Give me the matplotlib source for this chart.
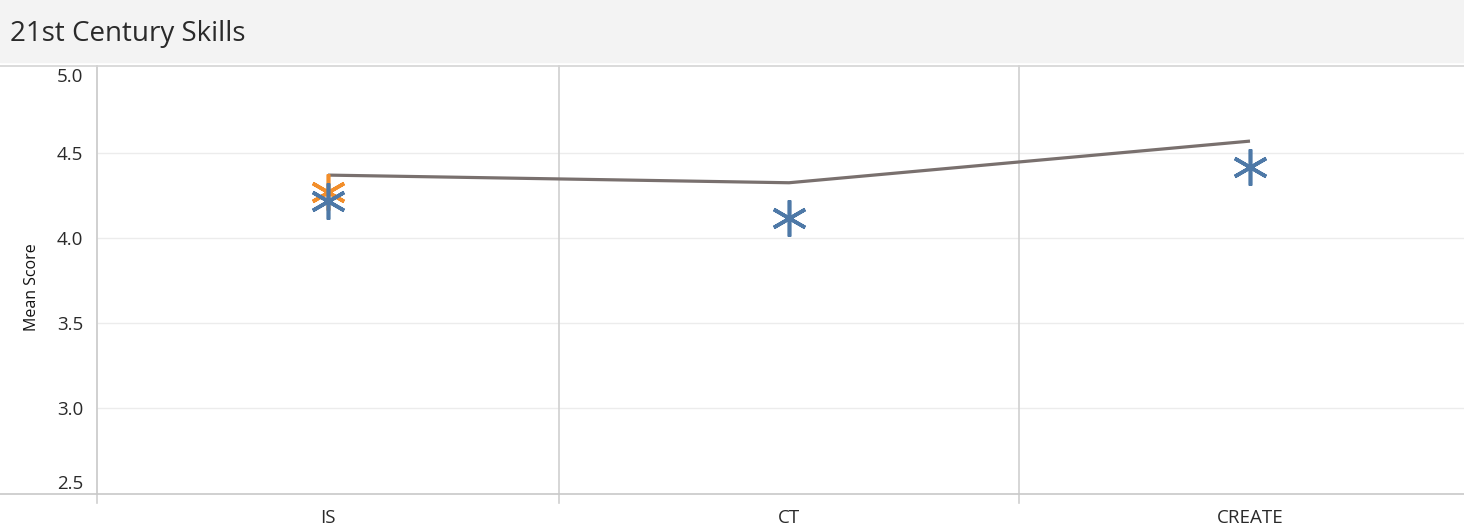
import matplotlib.pyplot as plt
import matplotlib.transforms as mtransforms
from matplotlib.patches import Rectangle

# data
categories = ["IS", "CT", "CREATE"]
line_values = [4.37, 4.325, 4.57]          # grey reference line
blue_values = [4.22, 4.115, 4.415]         # blue asterisks
orange_cats = ["IS"]
orange_values = [4.27]                     # orange asterisk (IS only)
yticks = [2.5, 3.0, 3.5, 4.0, 4.5, 5.0]

W, H = 1464, 530
fig = plt.figure(figsize=(W / 100, H / 100), dpi=100)
plt.rcParams['font.family'] = ['Open Sans', 'DejaVu Sans']

# header band
fig.patches.append(Rectangle((0, 1 - 62 / H), 1, 62 / H, transform=fig.transFigure,
                             color="#f3f3f3", zorder=0))
fig.text(10 / W, 1 - 34 / H, "21st Century Skills", fontsize=20, color="#2a2a2a",
         va="center", ha="left")

left, right, top, bottom = 97, 1464, 66, 494
ax = fig.add_axes([left / W, 1 - bottom / H, (right - left) / W, (bottom - top) / H])

xpos = list(range(len(categories)))
col_w = 461.0
ax.set_xlim(-(328 - left) / col_w, (right - 328) / col_w)
ax.set_ylim(2.5 - 1 / 170, 5.0 + 2 / 170)

# gridlines
for t in yticks[1:-1]:
    ax.axhline(t, color="#ececec", lw=1, zorder=1)

# column dividers (extend slightly below the axis)
trans = mtransforms.blended_transform_factory(ax.transData, ax.transAxes)
for xd in [0.5, 1.5]:
    ax.plot([xd, xd], [-9 / (bottom - top), 1], color="#d0d0d0", lw=1.2,
            transform=trans, clip_on=False, zorder=1)

ax.plot(xpos, line_values, color="#79706e", lw=2.3, zorder=3, solid_capstyle="butt")
ox = [categories.index(c) for c in orange_cats]
ax.plot(ox, orange_values, ls="none", marker=(6, 2, 0), ms=26, mew=2.6,
        color="#f28e2b", zorder=4)
ax.plot(xpos, blue_values, ls="none", marker=(6, 2, 0), ms=26, mew=2.6,
        color="#4e79a7", zorder=5)

for s in ["top", "right", "bottom"]:
    ax.spines[s].set_visible(False)
ax.spines["left"].set_color("#d0d0d0")
ax.spines["left"].set_linewidth(1.2)
ax.plot([0, 0], [-9 / (bottom - top), 1], color="#d0d0d0", lw=1.2,
        transform=ax.transAxes, clip_on=False)

# full-width separators
fig.add_artist(plt.Line2D([0, 1], [1 - top / H, 1 - top / H], color="#d4d4d4", lw=1.2,
                          transform=fig.transFigure))
fig.add_artist(plt.Line2D([0, 1], [1 - bottom / H, 1 - bottom / H], color="#c8c8c8",
                          lw=1.2, transform=fig.transFigure))

ax.set_xticks(xpos)
ax.set_xticklabels(categories, fontsize=13.5, color="#2a2a2a")
ax.tick_params(axis="x", length=0, pad=11)
ax.set_yticks(yticks)
ax.set_yticklabels(["%.1f" % t for t in yticks], fontsize=13.5, color="#2a2a2a")
ax.tick_params(axis="y", length=0, pad=10)
ylabels = ax.get_yticklabels()
ylabels[-1].set_va("top")
ylabels[0].set_va("bottom")

fig.text(32 / W, 1 - 287 / H, "Mean Score", rotation=90, fontsize=11.5, color="#111111",
         va="center", ha="center")

fig.savefig("out.png", dpi=100)
